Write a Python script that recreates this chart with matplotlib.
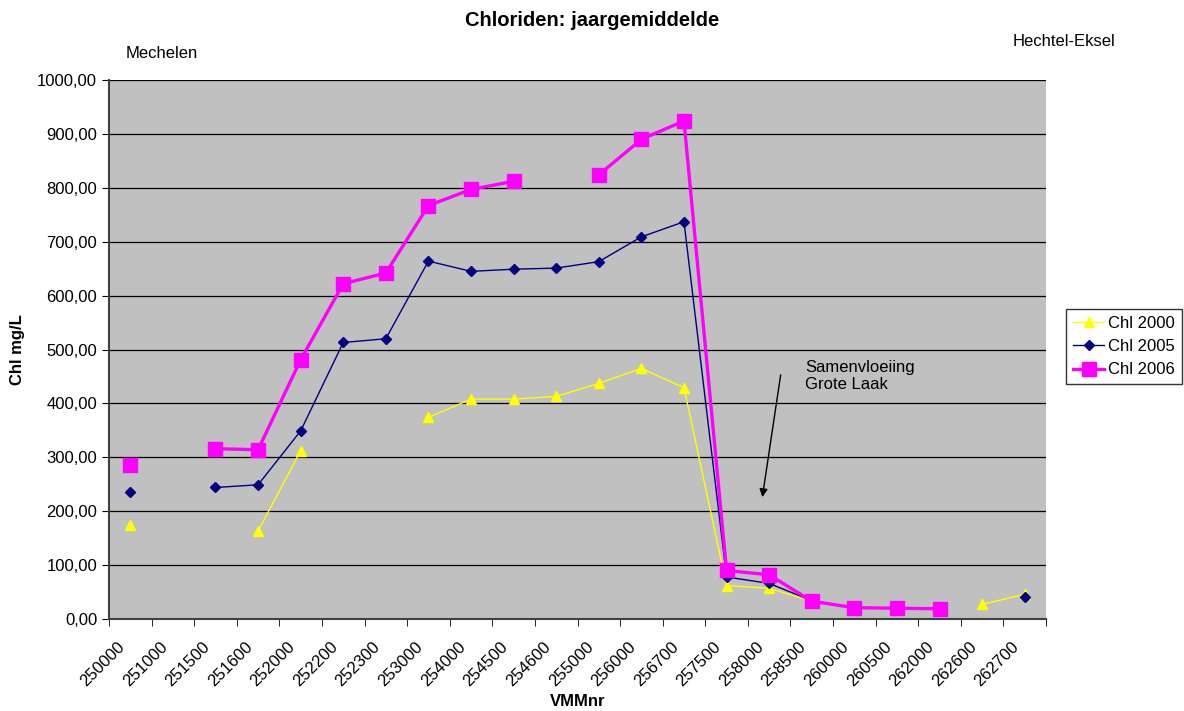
import numpy as np
import matplotlib
matplotlib.use("Agg")
from matplotlib import pyplot as plt
import matplotlib.transforms as mtransforms

nan = np.nan

vmm_nr = ["250000", "251000", "251500", "251600", "252000", "252200", "252300",
          "253000", "254000", "254500", "254600", "255000", "256000", "256700",
          "257500", "258000", "258500", "260000", "260500", "262000", "262600",
          "262700"]

chl_2000 = [174, nan, nan, 163, 312, nan, nan, 374, 408, 408, 413, 437, 465, 429,
            62, 57, 33, 21, 20, nan, 27, 46]
chl_2005 = [236, nan, 244, 249, 349, 513, 520, 664, 645, 649, 651, 663, 709, 737,
            78, 66, 34, 21, 20, 19, nan, 41]
chl_2006 = [285, nan, 316, 314, 481, 622, 642, 767, 797, 812, nan, 824, 890, 924,
            90, 82, 33, 21, 20, 19, nan, nan]

plt.rcParams['font.family'] = ['Liberation Sans', 'DejaVu Sans']

fig = plt.figure(figsize=(11.84, 7.11), dpi=100)
ax = fig.add_axes([109 / 1184, 1 - 619 / 711, 937 / 1184, 539 / 711])
ax.set_facecolor("#C0C0C0")

x = np.arange(len(vmm_nr))
ax.plot(x, chl_2000, color="#FFFF00", lw=1.0, marker="^", ms=7, label="Chl 2000", zorder=3)
ax.plot(x, chl_2005, color="#000080", lw=1.0, marker="D", ms=5.5, label="Chl 2005", zorder=4)
ax.plot(x, chl_2006, color="#FF00FF", lw=2.4, marker="s", ms=9.5, label="Chl 2006", zorder=5)

ax.set_xlim(-0.5, len(vmm_nr) - 0.5)
ax.set_ylim(0, 1000)
ax.set_yticks(np.arange(0, 1001, 100))
ax.set_yticklabels(["%d,00" % v for v in range(0, 1001, 100)], fontsize=12)
ax.yaxis.grid(True, color="black", lw=0.9)
ax.set_axisbelow(True)

ax.set_xticks(x)
ax.set_xticklabels(vmm_nr, rotation=45, ha="right", va="center",
                   rotation_mode="anchor", fontsize=12)
ax.tick_params(axis="x", which="major", length=0, pad=18)
shift = mtransforms.ScaledTranslation(-8 / 100, 0, fig.dpi_scale_trans)
for lab in ax.get_xticklabels():
    lab.set_transform(lab.get_transform() + shift)
ax.set_xticks(np.arange(-0.5, len(vmm_nr), 1), minor=True)
ax.tick_params(axis="x", which="minor", length=5, direction="out")
ax.tick_params(axis="y", length=5)

for s in ["top", "right"]:
    ax.spines[s].set_visible(False)
ax.spines["left"].set_color("#404040")
ax.spines["bottom"].set_color("#404040")
ax.spines["left"].set_linewidth(1.5)
ax.spines["bottom"].set_linewidth(1.5)

ax.set_ylabel("Chl mg/L", fontsize=12, fontweight="bold", labelpad=9)
ax.xaxis.set_label_coords(0.5, -(702 - 619) / 539)
ax.set_xlabel("VMMnr", fontsize=12, fontweight="bold", va="center")
fig.text(0.5, 1 - 20 / 711, "Chloriden: jaargemiddelde", ha="center", va="center",
         fontsize=14.5, fontweight="bold")
fig.text(126 / 1184, 1 - 54 / 711, "Mechelen", ha="left", va="center", fontsize=12)
fig.text(1013 / 1184, 1 - 42 / 711, "Hechtel-Eksel", ha="left", va="center", fontsize=12)

ax.text(15.84, 480, "Samenvloeiing\nGrote Laak", ha="left", va="top", fontsize=12,
        linespacing=1.15)
ax.annotate("", xy=(14.83, 221), xytext=(15.28, 458),
            arrowprops=dict(arrowstyle="-|>", color="black", lw=1.0, mutation_scale=12))

leg = ax.legend(loc="upper left", bbox_to_anchor=(1066 / 1184, 1 - 309 / 711),
                bbox_transform=fig.transFigure, frameon=True, fancybox=False,
                edgecolor="black", fontsize=12, borderpad=0.4, labelspacing=0.5,
                handlelength=1.9, handletextpad=0.25, borderaxespad=0)
leg.get_frame().set_linewidth(1.0)

fig.savefig("out.png", dpi=100)
